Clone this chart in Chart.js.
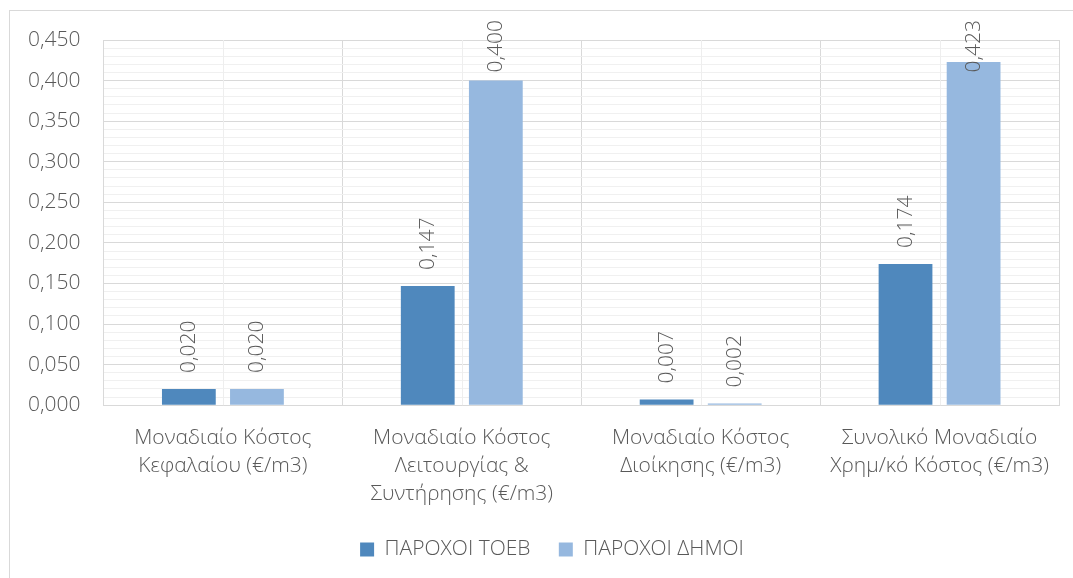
<!DOCTYPE html>
<html lang="el">
<head>
    <meta charset="UTF-8">
    <title>Μοναδιαίο Κόστος</title>
    <script src="https://cdn.jsdelivr.net/npm/chart.js"></script>
    <style>
        body { margin: 0; background: #fff; }
        #frame {
            position: absolute; left: 9px; top: 10px;
            width: 1100px; height: 600px;
            border: 1px solid #d9d9d9;
        }
        #wrap { position: absolute; left: 0; top: 0; width: 1073px; height: 578px; }
    </style>
</head>
<body>
    <div id="frame"></div>
    <div id="wrap"><canvas id="costChart" width="1073" height="578"></canvas></div>
    <script>
        const categories = [
            ['Μοναδιαίο Κόστος', 'Κεφαλαίου (€/m3)'],
            ['Μοναδιαίο Κόστος', 'Λειτουργίας &', 'Συντήρησης (€/m3)'],
            ['Μοναδιαίο Κόστος', 'Διοίκησης (€/m3)'],
            ['Συνολικό Μοναδιαίο', 'Χρημ/κό Κόστος (€/m3)']
        ];
        const toebValues = [0.020, 0.147, 0.007, 0.174];
        const dimoiValues = [0.020, 0.400, 0.002, 0.423];
        const seriesNames = ['ΠΑΡΟΧΟΙ ΤΟΕΒ', 'ΠΑΡΟΧΟΙ ΔΗΜΟΙ'];

        const FONT = "'Open Sans', 'DejaVu Sans', sans-serif";
        const fmt = v => v.toFixed(3).replace('.', ',');

        // light vertical lines through the middle of each category
        const centerLines = {
            id: 'centerLines',
            beforeDatasetsDraw(chart) {
                const { ctx, chartArea, scales } = chart;
                ctx.save();
                ctx.strokeStyle = '#eeeeee';
                ctx.lineWidth = 1;
                categories.forEach((c, i) => {
                    const x = Math.round(scales.x.getPixelForValue(i)) + 0.5;
                    ctx.beginPath();
                    ctx.moveTo(x, chartArea.top);
                    ctx.lineTo(x, chartArea.bottom);
                    ctx.stroke();
                });
                ctx.restore();
            }
        };

        // rotated value labels above each bar, pushed down if they would leave the frame
        const valueLabels = {
            id: 'valueLabels',
            afterDatasetsDraw(chart) {
                const { ctx } = chart;
                ctx.save();
                ctx.fillStyle = '#595959';
                ctx.font = '300 21px ' + FONT;
                ctx.textAlign = 'left';
                ctx.textBaseline = 'middle';
                chart.data.datasets.forEach((ds, di) => {
                    chart.getDatasetMeta(di).data.forEach((bar, i) => {
                        const txt = fmt(ds.data[i]);
                        const w = ctx.measureText(txt).width;
                        const start = Math.max(bar.y - 16, 20 + w);
                        ctx.save();
                        ctx.translate(bar.x, start);
                        ctx.rotate(-Math.PI / 2);
                        ctx.fillText(txt, 0, 0);
                        ctx.restore();
                    });
                });
                ctx.restore();
            }
        };

        // legend sits centred on the outer frame, a bit right of the canvas centre
        const legendShift = {
            id: 'legendShift',
            afterLayout(chart) {
                chart.legend.left += 20;
                chart.legend.right += 20;
            }
        };

        const ctx = document.getElementById('costChart').getContext('2d');
        new Chart(ctx, {
            type: 'bar',
            data: {
                labels: categories,
                datasets: [
                    {
                        label: seriesNames[0],
                        data: toebValues,
                        backgroundColor: '#4f88bd',
                        categoryPercentage: 0.57,
                        barPercentage: 0.79
                    },
                    {
                        label: seriesNames[1],
                        data: dimoiValues,
                        backgroundColor: '#96b8df',
                        categoryPercentage: 0.57,
                        barPercentage: 0.79
                    }
                ]
            },
            options: {
                responsive: false,
                animation: false,
                layout: { padding: { top: 40, right: 14, left: 5, bottom: 8 } },
                scales: {
                    x: {
                        grid: { offset: true, color: '#d9d9d9', drawTicks: false },
                        border: { color: '#d9d9d9' },
                        ticks: {
                            color: '#595959',
                            font: { family: FONT, size: 21, weight: 300, lineHeight: 1.33 },
                            padding: 19,
                            maxRotation: 0,
                            autoSkip: false
                        }
                    },
                    y: {
                        min: 0,
                        max: 0.45,
                        grid: {
                            drawTicks: false,
                            color: c => Math.round(c.tick.value * 1000) % 50 === 0 ? '#d9d9d9' : '#f0f0f0'
                        },
                        border: { color: '#d9d9d9' },
                        ticks: {
                            stepSize: 0.01,
                            autoSkip: false,
                            color: '#595959',
                            font: { family: FONT, size: 21, weight: 300 },
                            padding: 23,
                            callback: v => Math.round(v * 1000) % 50 === 0 ? fmt(v) : ''
                        }
                    }
                },
                plugins: {
                    legend: {
                        position: 'bottom',
                        labels: {
                            color: '#595959',
                            font: { family: FONT, size: 21, weight: 300 },
                            boxWidth: 14,
                            boxHeight: 14,
                            padding: 12,
                            generateLabels: chart => {
                                const items = Chart.defaults.plugins.legend.labels.generateLabels(chart);
                                items.forEach((it, i) => {
                                    if (i < items.length - 1) it.text += '   ';
                                });
                                return items;
                            }
                        }
                    },
                    tooltip: { enabled: false }
                }
            },
            plugins: [centerLines, valueLabels, legendShift]
        });
    </script>
</body>
</html>
